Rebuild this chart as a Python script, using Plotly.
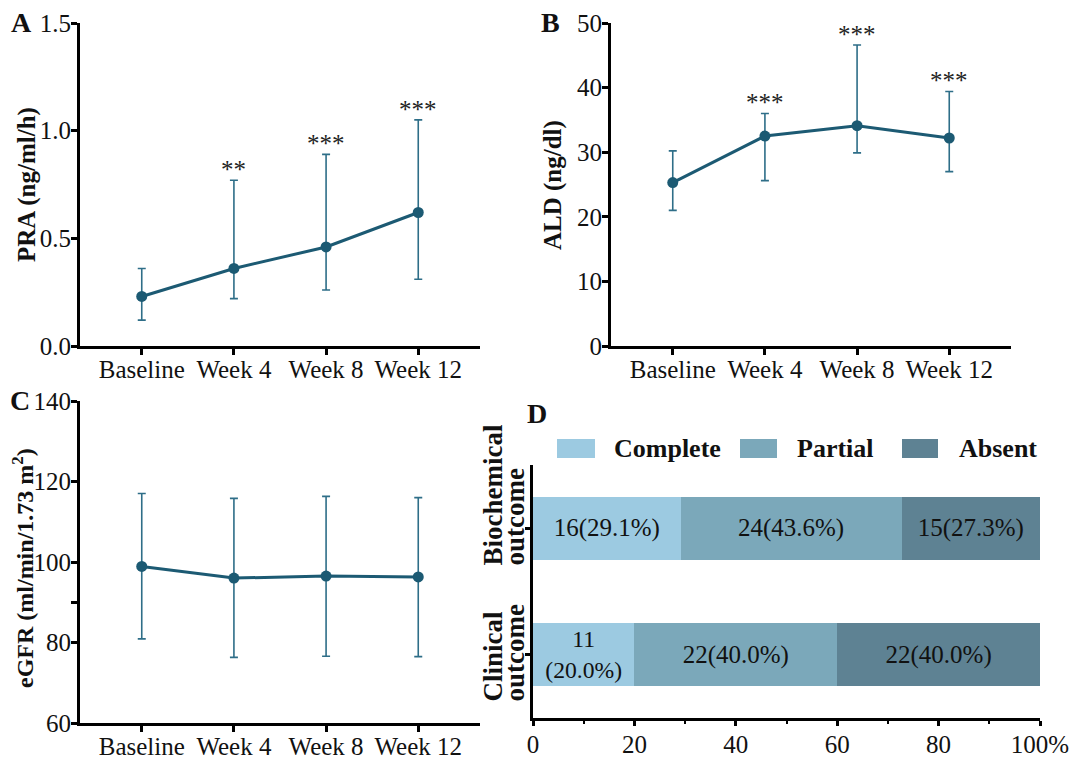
import plotly.graph_objects as go

# ---------------- data ----------------
timepoints = ["Baseline", "Week 4", "Week 8", "Week 12"]

pra_mean = [0.23, 0.36, 0.46, 0.62]
pra_upper = [0.36, 0.77, 0.89, 1.05]
pra_lower = [0.12, 0.22, 0.26, 0.31]
pra_sig = ["", "**", "***", "***"]

ald_mean = [25.3, 32.5, 34.1, 32.2]
ald_upper = [30.2, 36.0, 46.6, 39.4]
ald_lower = [21.0, 25.6, 29.9, 27.0]
ald_sig = ["", "***", "***", "***"]

egfr_mean = [98.9, 96.0, 96.5, 96.3]
egfr_upper = [117.0, 115.8, 116.3, 116.0]
egfr_lower = [80.9, 76.3, 76.6, 76.5]

outcomes = ["Clinical outcome", "Biochemical outcome"]
levels = ["Complete", "Partial", "Absent"]
counts = {
    "Complete": [11, 16],
    "Partial": [22, 24],
    "Absent": [22, 15],
}
percents = {
    "Complete": [20.0, 29.1],
    "Partial": [40.0, 43.6],
    "Absent": [40.0, 27.3],
}
pct_ticks = [0, 20, 40, 60, 80, 100]
pct_ticktext = ["0", "20", "40", "60", "80", "100%"]

# ---------------- style ----------------
FONT = "Liberation Serif"
LINE_C = "#1c5a73"
ERR_C = "#2e6e88"
BAR_C = {"Complete": "#9ccae1", "Partial": "#7ba8ba", "Absent": "#5e8293"}
OFF = 8            # page body margin in the browser
W, H = 1080 - OFF, 763 - OFF


def px_x(p):
    return (p - OFF) / W


def px_y(p):
    return 1 - (p - OFF) / H


fig = go.Figure()


def add_line_panel(xa, ya, mean, upper, lower, sig):
    plus = [u - m for u, m in zip(upper, mean)]
    minus = [m - l for m, l in zip(mean, lower)]
    fig.add_trace(go.Scatter(
        x=timepoints, y=mean, xaxis=xa, yaxis=ya, mode="lines+markers",
        line=dict(color=LINE_C, width=3),
        marker=dict(color=LINE_C, size=11),
        error_y=dict(type="data", symmetric=False, array=plus, arrayminus=minus,
                     color=ERR_C, thickness=1.6, width=4),
        showlegend=False, hoverinfo="skip"))
    if sig:
        for t, u, s in zip(timepoints, upper, sig):
            if s:
                fig.add_annotation(x=t, y=u, xref=xa, yref=ya, text=s,
                                   showarrow=False, yanchor="bottom", yshift=-5,
                                   font=dict(family=FONT, size=25, color="#222"))


add_line_panel("x", "y", pra_mean, pra_upper, pra_lower, pra_sig)
add_line_panel("x2", "y2", ald_mean, ald_upper, ald_lower, ald_sig)
add_line_panel("x3", "y3", egfr_mean, egfr_upper, egfr_lower, None)

for lev in levels:
    texts = []
    for c, p in zip(counts[lev], percents[lev]):
        if p < 25:
            texts.append(f"{c}<br>({p:.1f}%)")
        else:
            texts.append(f"{c}({p:.1f}%)")
    fig.add_trace(go.Bar(
        y=outcomes, x=percents[lev], orientation="h", xaxis="x4", yaxis="y4",
        name=lev, marker=dict(color=BAR_C[lev], line=dict(width=0)),
        text=texts, textposition="inside", insidetextanchor="middle",
        insidetextfont=dict(family=FONT, size=25, color="#111"),
        width=0.5, showlegend=False, hoverinfo="skip"))

TICKFONT = dict(family=FONT, size=25, color="#111")
TITLEFONT = dict(family=FONT, size=25, weight="bold", color="#111")
axis_common = dict(showline=True, linecolor="black", linewidth=3, ticks="outside",
                   tickcolor="black", tickwidth=2.5, ticklen=6, showgrid=False,
                   zeroline=False, tickfont=TICKFONT, automargin=False,
                   mirror=False, fixedrange=True)

xcat = dict(axis_common, type="category", range=[-0.67, 3.67], ticklabelstandoff=-7)
ynum = dict(axis_common, ticklabelstandoff=-5)
fig.update_layout(
    template="none",
    width=W, height=H, margin=dict(l=0, r=0, t=0, b=0, pad=0),
    font=dict(family=FONT, size=25, color="#111"),
    paper_bgcolor="white", plot_bgcolor="white", barmode="stack",
    xaxis=dict(xcat, domain=[px_x(80), px_x(480)], anchor="y"),
    yaxis=dict(ynum, domain=[px_y(346), px_y(23)], anchor="x",
               range=[0, 1.5], tickvals=[0, 0.5, 1.0, 1.5], tickformat=".1f"),
    xaxis2=dict(xcat, domain=[px_x(611), px_x(1011)], anchor="y2"),
    yaxis2=dict(ynum, domain=[px_y(346), px_y(23)], anchor="x2",
                range=[0, 50], dtick=10),
    xaxis3=dict(xcat, domain=[px_x(80), px_x(480)], anchor="y3"),
    yaxis3=dict(ynum, domain=[px_y(723), px_y(401)], anchor="x3",
                range=[60, 140], tickvals=[60, 80, 100, 120, 140],
                minor=dict(tickvals=[90], ticklen=6, tickwidth=2.5,
                           tickcolor="black", ticks="outside")),
    xaxis4=dict(axis_common, domain=[px_x(533), px_x(1040)], anchor="y4",
                range=[0, 100], tickvals=pct_ticks, ticktext=pct_ticktext, ticklen=5,
                ticklabelstandoff=-3,
                minor=dict(dtick=10, ticklen=3, tickwidth=2, tickcolor="black",
                           ticks="outside")),
    yaxis4=dict(axis_common, domain=[px_y(718), px_y(465)], anchor="x4",
                type="category", range=[-0.5, 1.5], ticklen=5, showticklabels=False),
)

# y-axis titles
for text, x, y, size in [("PRA (ng/ml/h)", 27, 185, 25), ("ALD (ng/dl)", 553, 185, 25),
                         ("eGFR (ml/min/1.73 m<sup>2</sup>)", 23, 568, 24)]:
    fig.add_annotation(x=px_x(x), y=px_y(y), xref="paper", yref="paper", text=text,
                       textangle=-90, showarrow=False, xanchor="center", yanchor="middle",
                       font=dict(TITLEFONT, size=size))

# category labels of panel D (two rotated lines each, starting at the bottom)
label_bottom = {"Clinical outcome": 704, "Biochemical outcome": 568}
for cat in outcomes:
    first, second = cat.split(" ")
    for word, x in [(first, 492), (second, 514)]:
        fig.add_annotation(x=px_x(x), y=px_y(label_bottom[cat]), xref="paper",
                           yref="paper", text=word, textangle=-90, showarrow=False,
                           xanchor="center", yanchor="bottom",
                           font=dict(family=FONT, size=27, weight="bold", color="#111"))

# panel letters
for letter, x, y in [("A", 21, 22), ("B", 550, 22), ("C", 20, 400), ("D", 537, 413)]:
    fig.add_annotation(x=px_x(x), y=px_y(y), xref="paper", yref="paper", text=letter,
                       showarrow=False, xanchor="center", yanchor="middle",
                       font=dict(family=FONT, size=28, weight="bold", color="#111"))

# legend for panel D
legend_items = [("Complete", 557, 595, 612), ("Partial", 740, 777, 795), ("Absent", 902, 938, 957)]
for lev, x0, x1, tx in legend_items:
    fig.add_shape(type="rect", xref="paper", yref="paper", x0=px_x(x0), x1=px_x(x1),
                  y0=px_y(458), y1=px_y(439), fillcolor=BAR_C[lev], line=dict(width=0))
    fig.add_annotation(x=px_x(tx), y=px_y(448), xref="paper", yref="paper", text=lev,
                       showarrow=False, xanchor="left", yanchor="middle",
                       font=dict(family=FONT, size=26, weight="bold", color="#111"))

fig.write_html("out.html")
